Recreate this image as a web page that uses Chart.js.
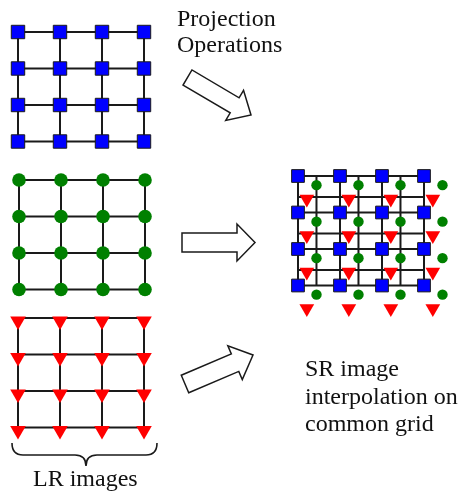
<!DOCTYPE html>
<html>
<head>
<meta charset="utf-8">
<script src="https://cdn.jsdelivr.net/npm/chart.js@4"></script>
<style>
  html, body { margin: 0; padding: 0; background: #fff; }
  canvas { display: block; }
</style>
</head>
<body>
<canvas id="sketch" width="462" height="493"></canvas>
<script>
// lattice indices shared by every grid
const cols = [0, 1, 2, 3];
const rows = [0, 1, 2, 3];
// sub-pixel shift of each LR image on the common SR grid (in lattice pitches)
const greenShift = [0.44, 0.25];
const redShift = [0.21, 0.63];
const redLineShift = 0.575;
// captions
const topLabel = ["Projection", "Operations"];
const rightLabel = ["SR image", "interpolation on", "common grid"];
const bottomLabel = "LR images";

// layout (pixels of the value space)
const PX = 42, PY = 36.5;
const origin = { blue: [18, 32], green: [19, 180], red: [18, 318], sr: [298, 176] };
const BLUE = "#0000ff", GREEN = "#008000", RED = "#ff0000", INK = "#1a1a1a";

function pts(o, sx, sy, dy) {
    var out = [];
    rows.forEach(function (r) {
        cols.forEach(function (c) {
            out.push({ x: o[0] + (c + sx) * PX, y: o[1] + (r + sy) * PY + (dy || 0) });
        });
    });
    return out;
}

function seg(a, b) {
    return {
        type: "line", data: [a, b], showLine: true, pointRadius: 0,
        borderColor: INK, borderWidth: 2, order: 5, clip: false
    };
}

function lattice(xs, ys) {
    var list = [];
    ys.forEach(function (y) { list.push(seg({ x: xs[0], y: y }, { x: xs[xs.length - 1], y: y })); });
    xs.forEach(function (x) { list.push(seg({ x: x, y: ys[0] }, { x: x, y: ys[ys.length - 1] })); });
    return list;
}

function markers(data, style, color, radius, extra) {
    return Object.assign({
        type: "scatter", data: data, pointStyle: style, pointRadius: radius,
        pointBackgroundColor: color, pointBorderColor: color, pointBorderWidth: 0,
        order: 1, clip: false
    }, extra || {});
}

var datasets = [];
// three LR images
["blue", "green", "red"].forEach(function (k) {
    var o = origin[k];
    datasets = datasets.concat(lattice(
        cols.map(function (c) { return o[0] + c * PX; }),
        rows.map(function (r) { return o[1] + r * PY; })
    ));
});
datasets.push(markers(pts(origin.blue, 0, 0), "rect", BLUE, 9.5, { pointBorderColor: INK, pointBorderWidth: 1 }));
datasets.push(markers(pts(origin.green, 0, 0), "circle", GREEN, 6.8));
datasets.push(markers(pts(origin.red, 0, 0, 3), "triangle", RED, 9, { pointRotation: 180 }));

// SR grid
var sr = origin.sr;
var srX = cols.map(function (c) { return sr[0] + c * PX; });
var srY = rows.map(function (r) { return sr[1] + r * PY; });
datasets = datasets.concat(lattice(srX, srY));
cols.slice(0, 3).forEach(function (c) {
    var x = sr[0] + (c + greenShift[0]) * PX;
    datasets.push(seg({ x: x, y: srY[0] }, { x: x, y: srY[3] }));
});
rows.slice(0, 3).forEach(function (r) {
    var y = sr[1] + (r + redLineShift) * PY;
    datasets.push(seg({ x: srX[0], y: y }, { x: srX[3], y: y }));
});
datasets.push(markers(pts(sr, greenShift[0], greenShift[1]), "circle", GREEN, 5.2));
datasets.push(markers(pts(sr, redShift[0], redShift[1]), "triangle", RED, 8.5, { pointRotation: 180 }));
datasets.push(markers(pts(sr, 0, 0), "rect", BLUE, 9, { pointBorderColor: INK, pointBorderWidth: 1, order: 0 }));

// block arrows: tail, tip, shaft half width, head half width, head length
const arrows = [
    [[187.5, 77.5], [251, 115], 8.75, 17.5, 19],
    [[182, 242.5], [255, 242.5], 9.5, 18.5, 18],
    [[185, 384], [253, 355], 9.5, 18.4, 19.5]
];

const annotate = {
    id: "annotate",
    afterDatasetsDraw: function (chart) {
        var ctx = chart.ctx, sx = chart.scales.x, sy = chart.scales.y;
        function P(x, y) { return [sx.getPixelForValue(x), sy.getPixelForValue(y)]; }
        ctx.save();
        ctx.lineJoin = "miter";
        ctx.strokeStyle = INK;
        ctx.fillStyle = "#fff";
        ctx.lineWidth = 1.5;
        arrows.forEach(function (a) {
            var t = a[0], h = a[1], sw = a[2], hw = a[3], hl = a[4];
            var dx = h[0] - t[0], dy = h[1] - t[1], L = Math.hypot(dx, dy);
            var ux = dx / L, uy = dy / L, nx = -uy, ny = ux;
            var bx = h[0] - ux * hl, by = h[1] - uy * hl;
            var poly = [
                [t[0] + nx * sw, t[1] + ny * sw],
                [bx + nx * sw, by + ny * sw],
                [bx + nx * hw, by + ny * hw],
                [h[0], h[1]],
                [bx - nx * hw, by - ny * hw],
                [bx - nx * sw, by - ny * sw],
                [t[0] - nx * sw, t[1] - ny * sw]
            ];
            ctx.beginPath();
            poly.forEach(function (p, i) {
                var q = P(p[0], p[1]);
                if (i) ctx.lineTo(q[0], q[1]); else ctx.moveTo(q[0], q[1]);
            });
            ctx.closePath();
            ctx.fill();
            ctx.stroke();
        });

        // curly brace under the LR images
        var x0 = 12, x1 = 157, xc = 86, top = 443, mid = 455, tip = 466, r = 11;
        ctx.lineWidth = 1.6;
        ctx.beginPath();
        var a = P(x0, top); ctx.moveTo(a[0], a[1]);
        var c1 = P(x0, mid), e1 = P(x0 + r, mid); ctx.quadraticCurveTo(c1[0], c1[1], e1[0], e1[1]);
        var l1 = P(xc - r, mid); ctx.lineTo(l1[0], l1[1]);
        var c2 = P(xc, mid), e2 = P(xc, tip); ctx.quadraticCurveTo(c2[0], c2[1], e2[0], e2[1]);
        var c3 = P(xc, mid), e3 = P(xc + r, mid); ctx.quadraticCurveTo(c3[0], c3[1], e3[0], e3[1]);
        var l2 = P(x1 - r, mid); ctx.lineTo(l2[0], l2[1]);
        var c4 = P(x1, mid), e4 = P(x1, top); ctx.quadraticCurveTo(c4[0], c4[1], e4[0], e4[1]);
        ctx.stroke();

        // captions
        ctx.fillStyle = "#111";
        ctx.font = '24px "Liberation Serif", "Times New Roman", serif';
        ctx.textAlign = "left";
        ctx.textBaseline = "alphabetic";
        topLabel.forEach(function (s, i) { var q = P(177, 26 + i * 25.5); ctx.fillText(s, q[0], q[1]); });
        rightLabel.forEach(function (s, i) { var q = P(305, 376 + i * 27.5); ctx.fillText(s, q[0], q[1]); });
        var q = P(33, 486); ctx.fillText(bottomLabel, q[0], q[1]);
        ctx.restore();
    }
};

new Chart(document.getElementById("sketch"), {
    type: "scatter",
    data: { datasets: datasets },
    options: {
        responsive: false,
        devicePixelRatio: 1,
        animation: false,
        layout: { padding: 0, autoPadding: false },
        plugins: { legend: { display: false }, tooltip: { enabled: false } },
        scales: {
            x: { type: "linear", min: 0, max: 462, display: false },
            y: { type: "linear", min: 0, max: 493, reverse: true, display: false }
        }
    },
    plugins: [annotate]
});
</script>
</body>
</html>
